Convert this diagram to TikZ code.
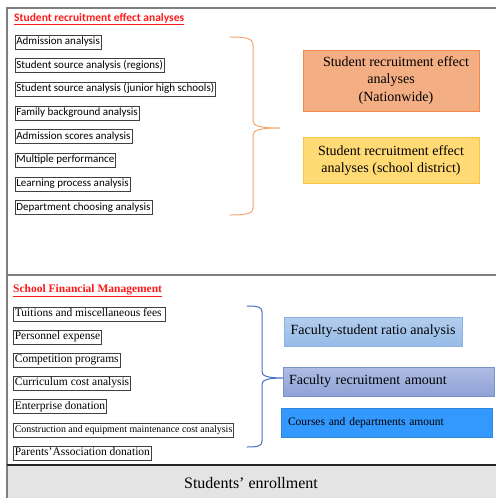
\documentclass[tikz,border=0pt]{standalone}
\usepackage{fontspec}
\setmainfont{Liberation Serif}
\newfontfamily\calibri{Carlito}
\usepackage{xcolor}
\usetikzlibrary{positioning,calc}
\definecolor{frGray}{HTML}{7F7F7F}
\definecolor{frBand}{HTML}{E4E4E4}
\definecolor{boxLine}{HTML}{404040}
\definecolor{titleRed}{HTML}{FF1A1A}
\definecolor{brOrange}{HTML}{F5A56E}
\definecolor{brBlue}{HTML}{4472C4}
\definecolor{natFill}{HTML}{F3AE84}
\definecolor{natLine}{HTML}{F08A4B}
\definecolor{disFill}{HTML}{FFDA75}
\definecolor{disLine}{HTML}{FAC343}
\definecolor{fsTop}{HTML}{B3CEEE}
\definecolor{fsBot}{HTML}{96BBE6}
\definecolor{fsLine}{HTML}{8DB2E2}
\definecolor{frTop}{HTML}{AFBDE4}
\definecolor{frBot}{HTML}{8EA2D6}
\definecolor{frLine}{HTML}{7890CC}
\definecolor{crFill}{HTML}{3399FF}
\definecolor{crLine}{HTML}{2F86DA}
\tikzset{
  item-box/.style={
    draw=boxLine, line width=0.7pt, anchor=north west,
    inner xsep=1.5pt, inner ysep=2pt, text height=7.5pt, text depth=2.5pt
  },
  item-sans/.style={item-box, font=\calibri\fontsize{11}{13}\selectfont},
  item-serif/.style={item-box, font=\fontsize{11.5}{13}\selectfont},
  panel-title/.style={anchor=west, text=titleRed, inner sep=0pt},
  res-box/.style={line width=0.8pt, align=center, inner sep=0pt,
    font=\fontsize{14}{17.5}\selectfont},
  brace/.style={line width=1pt, line cap=round}
}
\begin{document}
\begin{tikzpicture}[x=1pt, y=-1pt, node distance=9pt]
\useasboundingbox (0,0) rectangle (496,498);

% frame and panels
\fill[frBand] (7,465) rectangle (496,498);
\draw[frGray, line width=1.2pt] (496,8) -- (7,8) -- (7,498);
\draw[frGray, line width=1.2pt] (7,275) -- (496,275);
\draw[black!85, line width=1.2pt] (7,465) -- (496,465);
\node[font=\fontsize{16}{18}\selectfont] (enroll) at (251,483) {Students’ enrollment};

% student recruitment panel
\node[panel-title, font=\calibri\bfseries\fontsize{11.5}{13}\selectfont] (rectitle) at (14,19)
  {\underline{Student recruitment effect analyses}};
\node[item-sans] (admission) at (14.5,34.5) {Admission analysis};
\node[item-sans, below=of admission.south west, anchor=north west] (srcreg)
  {Student source analysis (regions)};
\node[item-sans, below=of srcreg.south west, anchor=north west] (srcjhs)
  {Student source analysis (junior high schools)};
\node[item-sans, below=of srcjhs.south west, anchor=north west] (family)
  {Family background analysis};
\node[item-sans, below=of family.south west, anchor=north west] (scores)
  {Admission scores analysis};
\node[item-sans, below=of scores.south west, anchor=north west] (multi)
  {Multiple performance};
\node[item-sans, below=of multi.south west, anchor=north west] (learn)
  {Learning process analysis};
\node[item-sans, below=of learn.south west, anchor=north west] (dept)
  {Department choosing analysis};

\node[res-box, draw=natLine, fill=natFill, minimum width=176pt, minimum height=61pt]
  (nation) at (391,80.5)
  {\hspace*{10pt}Student recruitment effect\\ analyses\\ \hspace*{10pt}(Nationwide)};
\node[res-box, draw=disLine, fill=disFill, minimum width=176pt, minimum height=46pt,
  below=26pt of nation] (district)
  {Student recruitment effect\\ analyses (school district)};

\draw[brace, brOrange] (230,37) .. controls (248,37) and (253,39) .. (253,45)
  -- (253,121) .. controls (253,126) and (260,128) .. (280,128)
  .. controls (260,128) and (253,130) .. (253,135)
  -- (253,208) .. controls (253,213) and (248,215) .. (230,215);

% financial management panel
\node[panel-title, font=\bfseries\fontsize{11.5}{13}\selectfont] (fintitle) at (13,291)
  {\underline{School Financial Management}};
\node[item-serif] (tuition) at (13,306.5) {Tuitions and miscellaneous fees\hspace*{2pt}};
\node[item-serif, below=8.5pt of tuition.south west, anchor=north west] (personnel)
  {Personnel expense};
\node[item-serif, below=8.5pt of personnel.south west, anchor=north west] (compet)
  {Competition programs};
\node[item-serif, below=8.5pt of compet.south west, anchor=north west] (curric)
  {Curriculum cost analysis};
\node[item-serif, below=8.5pt of curric.south west, anchor=north west] (enterp)
  {Enterprise donation};
\node[item-serif, below=8.5pt of enterp.south west, anchor=north west,
  font=\fontsize{9.9}{12}\selectfont] (constr)
  {Construction and equipment maintenance cost analysis};
\node[item-serif, below=8.5pt of constr.south west, anchor=north west] (parents)
  {Parents’Association donation};

\node[res-box, top color=fsTop, bottom color=fsBot, draw=fsLine,
  minimum width=178pt, minimum height=29pt] (ratio) at (373,331.5)
  {Faculty-student ratio analysis};
\node[res-box, top color=frTop, bottom color=frBot, draw=frLine,
  minimum width=211pt, minimum height=29pt, text width=199pt, align=left]
  (recruit) at (388.5,381.5) {Faculty recruitment amount};
\node[res-box, fill=crFill, draw=crLine, font=\fontsize{11.5}{13}\selectfont,
  minimum width=211pt, minimum height=29pt, text width=197pt, align=left]
  (courses) at (386.5,422.5) {Courses and departments amount};

\draw[brace, brBlue] (247,306) .. controls (258,306) and (262,307) .. (262,312)
  -- (262,372) .. controls (262,376) and (268,378) .. (283,378)
  .. controls (268,378) and (262,380) .. (262,384)
  -- (262,441) .. controls (262,446) and (258,447) .. (247,447);
\end{tikzpicture}
\end{document}
